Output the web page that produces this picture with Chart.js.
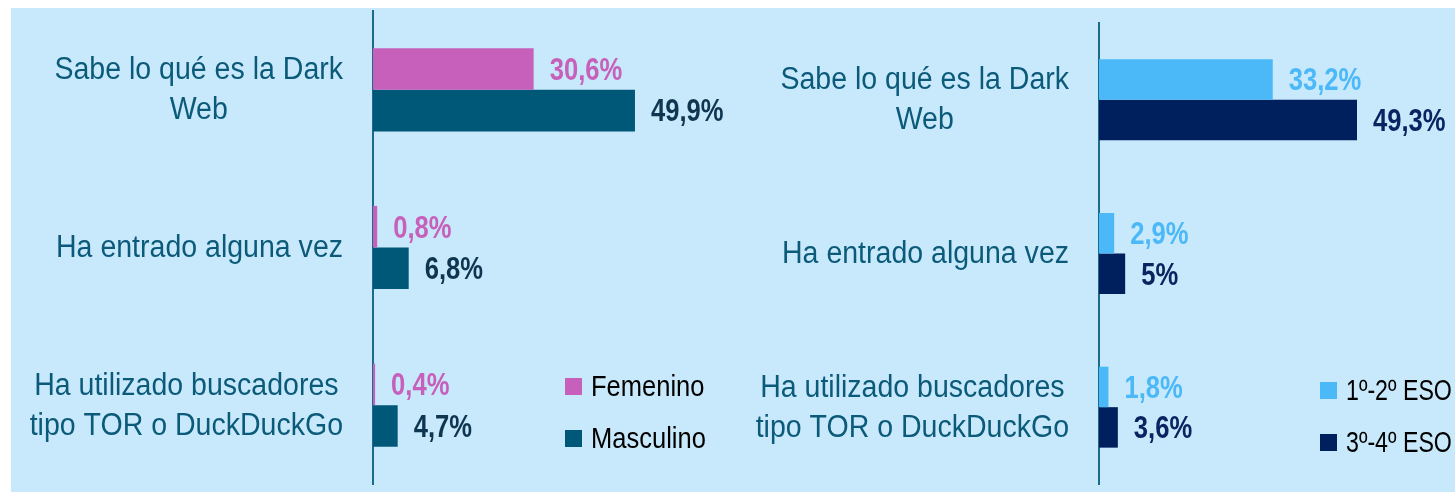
<!DOCTYPE html>
<html lang="es">
<head>
<meta charset="utf-8">
<script src="https://cdn.jsdelivr.net/npm/chart.js@4.4.1/dist/chart.umd.min.js"></script>
<style>
  html, body { margin: 0; padding: 0; background: #ffffff; }
  #panel {
    position: absolute; left: 11px; top: 8px; width: 1444px; height: 484px;
    background: #c8e9fb;
  }
  .box { position: absolute; top: 0; height: 484px; }
  #boxSexo { left: 0; width: 760px; }
  #boxCurso { left: 719px; width: 725px; }
</style>
</head>
<body>
<div id="panel">
  <div class="box" id="boxSexo"><canvas id="chartSexo"></canvas></div>
  <div class="box" id="boxCurso"><canvas id="chartCurso"></canvas></div>
</div>
<script>
const categories = [
  ["Sabe lo qué es la Dark", "Web"],
  ["Ha entrado alguna vez"],
  ["Ha utilizado buscadores", "tipo TOR o DuckDuckGo"],
];
const femenino = [30.6, 0.8, 0.4];
const masculino = [49.9, 6.8, 4.7];
const eso12 = [33.2, 2.9, 1.8];
const eso34 = [49.3, 5, 3.6];

const FONT = '"Liberation Sans", Arial, sans-serif';
const AXIS_COLOR = "#1b6b8c";
const CAT_COLOR = "#0b5a79";

const fmt = (v) => String(v).replace(".", ",") + "%";

// no narrow face installed, so squeeze the glyphs horizontally
function narrowText(ctx, text, x, y, sx) {
  ctx.save();
  ctx.translate(x, y);
  ctx.scale(sx, 1);
  ctx.fillText(text, 0, 0);
  ctx.restore();
}

// category names to the left of the axis, lines centred on each other
const categoryLabels = {
  id: "categoryLabels",
  afterDraw(chart) {
    const { ctx, chartArea } = chart;
    const y = chart.scales.y;
    const sx = 0.92;
    const lineH = 40;
    ctx.save();
    ctx.font = "31px " + FONT;
    ctx.fillStyle = CAT_COLOR;
    ctx.textAlign = "center";
    ctx.textBaseline = "middle";
    chart.data.labels.forEach((lines, i) => {
      const widest = Math.max(...lines.map((l) => ctx.measureText(l).width)) * sx;
      const cx = chartArea.left - 30 - widest / 2;
      const cy = y.getPixelForValue(i);
      lines.forEach((l, j) => {
        narrowText(ctx, l, cx, cy + (j - (lines.length - 1) / 2) * lineH + 1, sx);
      });
    });
    ctx.restore();
  },
};

// percentage next to the end of each bar
const valueLabels = {
  id: "valueLabels",
  afterDatasetsDraw(chart) {
    const { ctx } = chart;
    ctx.save();
    ctx.font = "bold 32px " + FONT;
    ctx.textAlign = "left";
    ctx.textBaseline = "middle";
    chart.data.datasets.forEach((ds, di) => {
      chart.getDatasetMeta(di).data.forEach((bar, i) => {
        ctx.fillStyle = ds.labelColor;
        narrowText(ctx, fmt(ds.data[i]), bar.x + 16, bar.y + 2, 0.8);
      });
    });
    ctx.restore();
  },
};

// small square legend inside the plot
const boxLegend = {
  id: "boxLegend",
  afterDraw(chart, args, opts) {
    const { ctx } = chart;
    ctx.save();
    ctx.font = "29px " + FONT;
    ctx.textAlign = "left";
    ctx.textBaseline = "middle";
    chart.data.datasets.forEach((ds, i) => {
      const top = opts.y + i * opts.gap;
      ctx.fillStyle = ds.backgroundColor;
      ctx.fillRect(opts.x, top, 17, 17);
      ctx.fillStyle = "#000000";
      narrowText(ctx, ds.label, opts.x + 26, top + 10, opts.sx);
    });
    ctx.restore();
  },
};

function makeChart(id, datasets, axisWidth, pad, legendPos) {
  return new Chart(document.getElementById(id), {
    type: "bar",
    data: { labels: categories, datasets },
    options: {
      indexAxis: "y",
      responsive: true,
      maintainAspectRatio: false,
      animation: false,
      events: [],
      layout: { padding: pad },
      datasets: { bar: { categoryPercentage: 0.527, barPercentage: 1 } },
      scales: {
        x: { display: false, min: 0, max: 60 },
        y: {
          grid: { display: false, drawTicks: false },
          border: { display: true, color: AXIS_COLOR, width: 2 },
          ticks: { display: false },
          afterFit: (scale) => { scale.width = axisWidth; },
        },
      },
      plugins: {
        legend: { display: false },
        tooltip: { enabled: false },
        boxLegend: legendPos,
      },
    },
    plugins: [categoryLabels, valueLabels, boxLegend],
  });
}

makeChart("chartSexo", [
  { label: "Femenino", data: femenino, backgroundColor: "#c760ba", labelColor: "#c760ba" },
  { label: "Masculino", data: masculino, backgroundColor: "#005879", labelColor: "#0f3650" },
], 362, { top: 3, bottom: 8, left: 0, right: 83 }, { x: 554, y: 370, gap: 52, sx: 0.88 });

makeChart("chartCurso", [
  { label: "1º-2º ESO", data: eso12, backgroundColor: "#4bb8f8", labelColor: "#4bb8f8" },
  { label: "3º-4º ESO", data: eso34, backgroundColor: "#001f5d", labelColor: "#0a2461" },
], 369, { top: 15, bottom: 8, left: 0, right: 42 }, { x: 590, y: 374, gap: 52, sx: 0.8 });
</script>
</body>
</html>
